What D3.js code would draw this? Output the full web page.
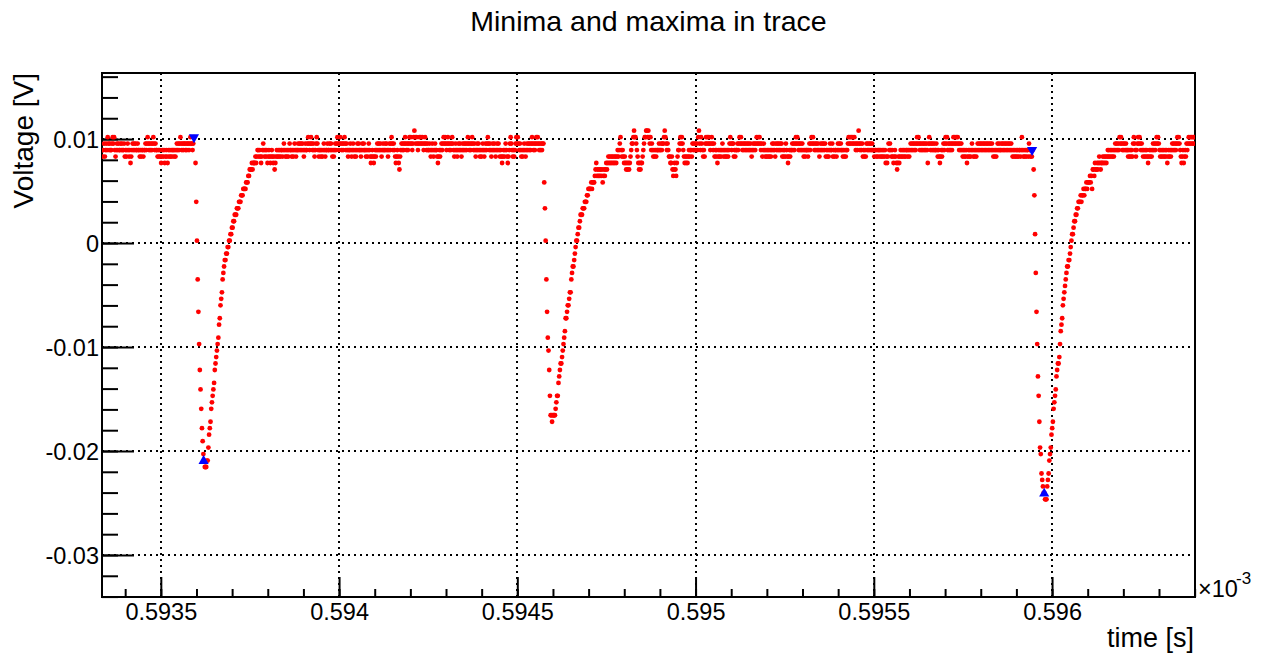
<!DOCTYPE html>
<html><head><meta charset="utf-8">
<script src="https://cdn.jsdelivr.net/npm/d3@7"></script>
<style>
body{margin:0;background:#fff}
svg{display:block}
text{font-family:"Liberation Sans",Arial,Helvetica,sans-serif;fill:#000}
</style>
</head><body>
<svg id="c" width="1271" height="660"></svg>
<script>
// ---------------- data ----------------
const chartTitle = "Minima and maxima in trace";
const xTitle = "time [s]";
const yTitle = "Voltage [V]";
const xExponent = "-3";
const xDomain = [0.593335, 0.596401];
const yDomain = [-0.03404, 0.01635];
const xTicks = [0.5935, 0.594, 0.5945, 0.595, 0.5955, 0.596];
const xTickLabels = ["0.5935", "0.594", "0.5945", "0.595", "0.5955", "0.596"];
const yTicks = [-0.03, -0.02, -0.01, 0, 0.01];
const yTickLabels = ["-0.03", "-0.02", "-0.01", "0", "0.01"];
const xMinorStep = 0.0001;
const yMinorStep = 0.002;

// digitizer: sample period (in 10^-3 s) and volts per ADC code
const sampleStep = 0.000002;
const adcLSB = 0.000622;
const adcOffset = 0.00023;

// start time of each recorded stretch of samples
const segmentStart = [0.593335, 0.5935974, 0.5937733, 0.5945755, 0.5950154, 0.5959484, 0.5961574];

// ADC codes, one per sample
const base1 = [14,13,14,15,13,14,15,14,
16,15,14,15,14,14,15,
16,15,16,14,13,14,15,
14,15,14,14,15,14,15,14,14,15,
13,14,13,14,15,14,13,14,12,13,
14,15,14,15,14,15,14,14,15,14,14,
13,14,13,14,14,13,14,14,15,14,
15,16,15,14,15,14,15,14,15,16,15,14,15,14,14,
13,14,13,14,13,12,13,14,13,14,12,13,14,13,12,14,13,14,13,14,13,14,14,13,14,13,14,
15,14,15,14,15,16,15,14,15,14,15,15,14,15,14,15,15,14,15,16,15,15,14,15,
16];

const dip1 = [12,6,0,-6,-11,-16,-20,-23,-26,-29,-31,-33,-34,-35,-35,-35,
-34,-34,-32,-30,-29,-28,-26,-25,-24,-23,
-22,-20,-19,-18,-17,-16,-15,-13,-12,-10,
-9,-8,-6,-5,-4,-3,-3,-2,-2,-1,
-1,0,0,1,1,2,2,3,3,4,
4,4,5,5,5,6,6,6,7,7,
7,8,8,8,8,9,9,9,10,10,
11,11,11,12,11,12,12,12,13,12,
13,14];

const base2 = [14,13,14,13,12,13,14,15,14,13,
14,13,14,12,13,14,13,12,13,14,
13,12,13,11,12,13,14,13,14,13,
14,13,14,14,13,14,15,14,13,14,
13,14,13,14,15,14,14,13,14,13,
14,15,14,13,14,14,15,14,15,14,
15,14,15,14,13,14,15,14,14,15,
16,15,14,15,16,15,14,15,14,13,
14,15,16,15,14,13,14,14,13,14,
13,14,15,14,13,14,14,15,14,14,
15,14,15,14,13,14,13,14,15,14,
15,16,15,14,15,16,15,14,15,14,
15,16,15,14,15,14,13,14,14,15,
14,13,14,15,14,13,14,13,14,15,
14,15,14,14,13,14,15,14,15,14,
14,13,14,13,14,15,14,13,12,13,
14,13,12,13,14,13,14,15,14,15,
14,15,14,13,14,15,14,14,15,14,
15,14,13,14,15,14,15,16,15,14,
15,14,13,12,13,14,13,12,11,13,
14,15,14,15,14,15,16,15,14,15,
14,15,16,15,16,15,14,15,16,17,
16,15,16,15,14,15,16,15,16,15,
16,15,14,15,16,15,14,15,14,14,
15,14,13,14,15,14,13,14,15,14,
14,13,12,13,14,13,14,15,14,15,
16,15,16,15,14,15,16,15,14,15,
14,15,16,15,14,13,14,15,14,13,
14,15,14,15,14,13,14,15,14,15,
14,15,14,15,16,15,14,15,14,15,
16,15,14,15,14,13,14,15,14,15,
14,13,14,13,14,15,14,13,14,15,
14,15,16,15,14,15,14,13,14,15,
14,15,14,13,14,15,14,15,14,13,
14,13,12,13,14,13,14,15,14,13,
12,13,14,15,16,15,14,13,14,13,
14,15,16,15,16,15,14,15,14,13,
14,13,14,15,14,13,14,15,14,15,
14,15,14,15,16,15,14,15,14,15,
16,15,16,15,14,15,14,15,14,15,15];

const dip2 = [9,5,0,-6,-11,-15,-17,-20,-24,-27,
-27,-28,-27,-27,-27,-27,-26,-25,-24,-24,
-22,-21,-20,-19,-19,-18,-17,-16,-15,-14,
-12,-12,-11,-10,-10,-9,-8,-8,-6,-5,
-4,-4,-3,-2,-1,0,0,1,2,2,
3,4,4,4,5,5,5,6,6,6,
7,7,8,8,8,8,9,8,9,9,
9,10,11,12,10,11,10,11,10,11,
10,11,9,10,11,10,11,12,11,12,
13,12,13,12,13,12,13,12,13,12,
13,12,13,14,13,14,15,16,14,13,
14,13,12,13,12,
11,12,11,12,11,12,
13,14,15,15,
16,17,16,16,
15,14,13,
12,11,12,11,12,12,
13,14,15,16,
16,17,17,16,17,16,15,16,14,15,
14,13,14,13,14,13,14,14,
14,15,14,14,15,14,15,
15,16,17,16,15,14,15,
14,13,13,12,12,13,
11,10,11,12,11,10,
12,13,14,14,
15,16,15,16,15,14,
13,12,13,12,13,12,
13,14,13,14,14,13,
15,14,15,14,15,14,15,14,
16,17,15,14];

const base3 = [16,15,14,13,14,13,15,16,15,16,
15,16,15,14,15,16,15,14,15,13,
14,13,14,12,13,14,13,14,13,14,
15,14,13,14,13,14,13,14,13,14,
15,16,15,14,15,15,13,14,13,14,
14,15,14,15,16,15,16,15,14,15,
14,15,14,15,14,15,14,15,14,15,
14,13,14,15,14,15,14,15,16,15,
16,15,16,15,14,15,13,14,15,14,
13,14,13,14,13,14,13,14,13,14,
15,14,15,14,13,15,14,15,14,15,
14,15,14,15,13,14,13,14,13,15,
14,13,12,13,14,13,14,14,15,14,
15,14,15,16,15,16,15,14,15,14,
15,14,15,14,13,14,13,14,14,14,
13,14,15,14,15,16,15,16,15,14,
15,14,15,14,15,14,13,14,15,14,
15,14,15,14,15,13,14,13,14,13,
14,15,14,14,15,13,14,13,14,14,
13,14,15,14,15,14,15,14,14,13,
14,13,14,13,14,14,15,16,15,16,
15,16,15,16,15,16,15,14,15,14,
15,17,15,14,15,14,15,13,14,13,
14,13,15,14,15,14,15,14,15,14,
15,14,14,13,14,14,13,14,13,14,
14,13,14,13,14,13,14,13,14,12,
13,12,13,15,14,15,14,13,14,13,
12,13,14,13,12,11,12,13,12,13,
14,13,14,13,14,13,14,13,14,14,
13,14,13,14,15,14,15,14,15,14,
15,14,15,16,15,16,15,14,15,14,
15,14,15,14,15,14,15,14,12,15,
16,15,14,15,14,15,14,15,14,14,
15,14,13,14,13,12,13,14,13,14,
15,14,15,16,15,16,14,15,14,15,
14,15,14,15,16,15,16,15,16,15,
16,15,14,15,14,15,14,13,14,13,
14,13,14,12,13,14,13,14,13,14,
15,14,13,14,13,14,13,14,15,14,
15,14,15,14,15,14,15,14,15,14,
15,14,15,14,15,14,15,14,15,14,
13,14,13,14,13,14,15,14,15,14,
14,15,14,15,14,15,14,15,14,15,
14,15,14,15,14,15,14,13,14,13,
14,13,14,13,14,13,14,14,13,14,
16,14,13,14,13,14,13,14,14,13,
15,14,13,14,13,14];

const dip3 = [11,7,1,-5,-11,-16,-21,-24,-28,-32,-33,-36,-37,-38,-39,-39,-40,-40,-40,
-38,-37,-36,-34,-33,-32,-30,-29,-28,-26,
-25,-24,-23,-21,-20,-19,-19,-18,-16,-14,
-13,-12,-10,-9,-8,-7,-6,-5,-4,-4,
-3,-3,-2,-1,0,1,1,2,3,3,
4,4,5,5,6,6,6,7,6,7,
7,8,7,8,8,9,8,9,9,9,
10,9,10,8,11,11,10,12,11,11,
12,11,12,13,12,11,12,12,13,12,
13,12,13,12,13,14];

const base4 = [13,14,13,14,13,14,13,14,13,14,
15,14,15,14,15,14,16,15,16,15,
14,15,14,15,14,15,14,14,13,14,
13,14,13,14,13,15,16,15,14,13,
14,15,16,15,16,15,14,15,14,13,
14,13,14,13,14,13,12,13,14,13,
14,13,14,15,14,15,14,15,16,15,
16,15,14,13,14,13,14,13,14,13,
14,13,14,12,13,14,13,14,13,14,
15,14,15,14,15,14,15,16,15,16,
15,14,13,12,13,14,12,13,14,13,
15,14,15,16,15,16,15,16,15,16,
15,16];

// extrema found in the trace (time, voltage)
const maximaT = [0.593593, 0.595944];
const maximaV = [0.01017, 0.00894];
const minimaT = [0.593620, 0.595978];
const minimaV = [-0.02096, -0.02409];

// ---------------- drawing ----------------
const segments = [base1, dip1, base2, dip2, base3, dip3, base4];
const frame = {left: 102, right: 1195, top: 73, bottom: 597};
const x = d3.scaleLinear().domain(xDomain).range([frame.left, frame.right]);
const y = d3.scaleLinear().domain(yDomain).range([frame.bottom, frame.top]);

const points = [];
segments.forEach((codes, s) => {
  codes.forEach((c, k) => points.push({t: segmentStart[s] + k * sampleStep, v: adcOffset + c * adcLSB}));
});

const svg = d3.select("#c");
svg.append("rect").attr("width", 1271).attr("height", 660).attr("fill", "#fff");

svg.append("defs").append("clipPath").attr("id", "clip")
  .append("rect").attr("x", frame.left).attr("y", frame.top)
  .attr("width", frame.right - frame.left).attr("height", frame.bottom - frame.top);

// grid
const grid = svg.append("g").attr("stroke", "#000").attr("stroke-width", 2)
  .attr("stroke-dasharray", "2,4").attr("fill", "none");
xTicks.forEach(t => {
  const px = Math.round(x(t));
  grid.append("line").attr("x1", px).attr("x2", px).attr("y1", frame.top).attr("y2", frame.bottom);
});
yTicks.forEach(v => {
  const py = Math.round(y(v));
  grid.append("line").attr("x1", frame.left).attr("x2", frame.right).attr("y1", py).attr("y2", py);
});

// minor ticks
const xMinor = d3.range(Math.ceil(xDomain[0] / xMinorStep), Math.floor(xDomain[1] / xMinorStep) + 1).map(i => +(i * xMinorStep).toFixed(6));
const yMinor = d3.range(Math.ceil(yDomain[0] / yMinorStep), Math.floor(yDomain[1] / yMinorStep) + 1).map(i => +(i * yMinorStep).toFixed(6));

const xAxisMinor = d3.axisBottom(x).tickValues(xMinor).tickSize(-8).tickFormat("");
const yAxisMinor = d3.axisLeft(y).tickValues(yMinor).tickSize(-16).tickFormat("");
const xAxis = d3.axisBottom(x).tickValues(xTicks).tickSize(-20).tickPadding(6).tickFormat((d, i) => xTickLabels[i]);
const yAxis = d3.axisLeft(y).tickValues(yTicks).tickSize(-32).tickPadding(3).tickFormat((d, i) => yTickLabels[i]);

function styleAxis(g) {
  g.select(".domain").remove();
  g.selectAll(".tick line").attr("stroke", "#000").attr("stroke-width", 2);
  g.selectAll(".tick text").attr("font-size", 23.5).attr("font-family", "Liberation Sans, Arial, sans-serif").attr("fill", "#000");
}
svg.append("g").attr("transform", `translate(0,${frame.bottom})`).call(xAxisMinor).call(styleAxis);
svg.append("g").attr("transform", `translate(${frame.left},0)`).call(yAxisMinor).call(styleAxis);
svg.append("g").attr("transform", `translate(0,${frame.bottom})`).call(xAxis).call(styleAxis);
svg.append("g").attr("transform", `translate(${frame.left},0)`).call(yAxis).call(styleAxis)
  .selectAll(".tick text").attr("dy", "0.36em");

// frame
svg.append("rect").attr("x", frame.left).attr("y", frame.top)
  .attr("width", frame.right - frame.left).attr("height", frame.bottom - frame.top)
  .attr("fill", "none").attr("stroke", "#000").attr("stroke-width", 2);

// trace points
svg.append("g").attr("clip-path", "url(#clip)").selectAll("circle").data(points).join("circle")
  .attr("cx", d => x(d.t)).attr("cy", d => y(d.v)).attr("r", 2.4).attr("fill", "#ff0000");

// extrema markers
const tri = d3.symbol().type(d3.symbolTriangle).size(45);
const mk = svg.append("g").attr("fill", "#0000ff");
maximaT.forEach((t, i) => mk.append("path").attr("d", tri())
  .attr("transform", `translate(${x(t)},${y(maximaV[i])}) rotate(180)`));
minimaT.forEach((t, i) => mk.append("path").attr("d", tri())
  .attr("transform", `translate(${x(t)},${y(minimaV[i])})`));

// titles
svg.append("text").attr("x", 648.5).attr("y", 31).attr("text-anchor", "middle").attr("font-size", 28.5).text(chartTitle);
svg.append("text").attr("x", 1194).attr("y", 647).attr("text-anchor", "end").attr("font-size", 27).text(xTitle);
svg.append("text").attr("transform", "translate(33,73) rotate(-90)").attr("text-anchor", "end").attr("font-size", 28).text(yTitle);
svg.append("text").attr("x", 1198).attr("y", 597).attr("font-size", 23.5).text("\u00d710");
svg.append("text").attr("x", 1236).attr("y", 584).attr("font-size", 17).text(xExponent);
</script>
</body></html>
